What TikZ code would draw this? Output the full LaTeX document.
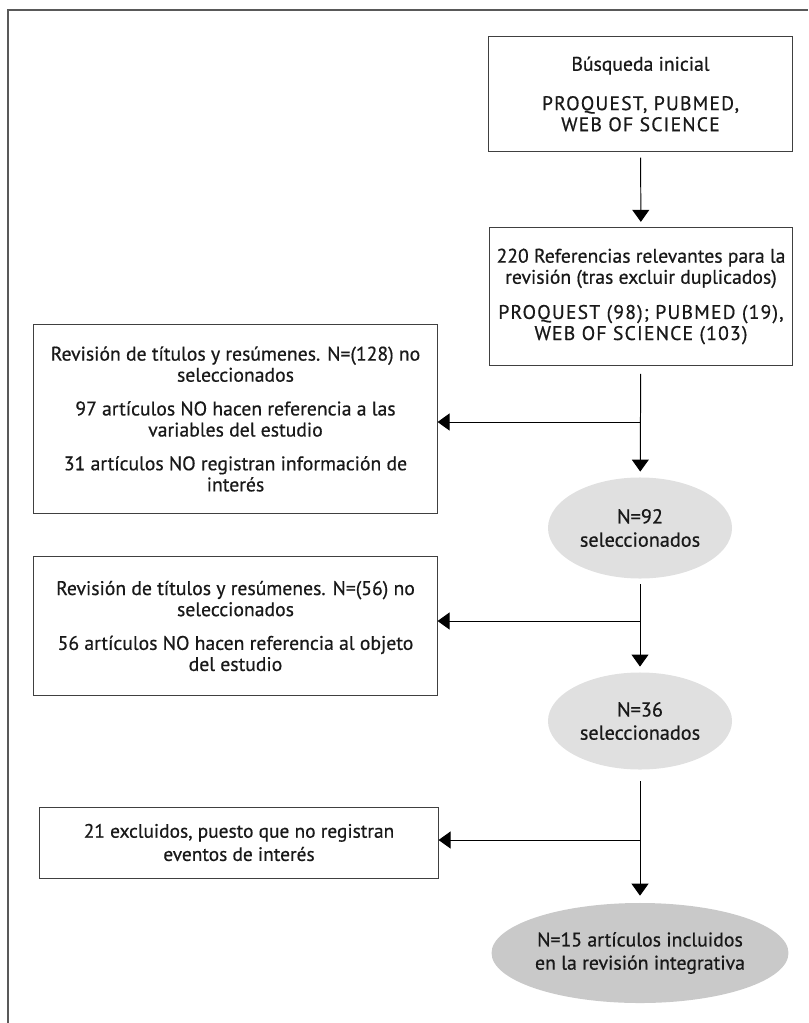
\documentclass[tikz,border=0pt]{standalone}
\usepackage{fontspec}
\setmainfont{PT Sans}[FakeBold=0.6]
\usetikzlibrary{shapes.geometric,arrows.meta}

\newcommand{\mayus}{\addfontfeature{LetterSpace=6}}

\tikzset{
  caja/.style={draw=black!75, line width=0.7pt, align=center, inner sep=0pt, text=black!90, font=\fontsize{14}{15}\selectfont},
  selec/.style={ellipse, fill=black!12, align=center, inner sep=0pt, text=black!90, font=\fontsize{14.4}{16.5}\selectfont},
  final/.style={ellipse, fill=black!21, align=center, inner sep=0pt, text=black!90, font=\fontsize{14.1}{16.5}\selectfont},
  flecha/.style={line width=0.7pt, -{Triangle[width=12pt,length=8.5pt]}}
}

\begin{document}
\begin{tikzpicture}[x=0.025cm,y=-0.025cm]
\useasboundingbox (0,0) rectangle (808,1023);
\draw [black!65, line width=1.2pt] (8,1023) -- (8,10) -- (808,10);
\node [caja, minimum width=7.575cm, minimum height=2.875cm] (busq) at (640.5,94) {B\'usqueda inicial\\[13pt] {\mayus PROQUEST, PUBMED,}\\ {\mayus WEB OF SCIENCE}};
\node [caja, minimum width=7.55cm, minimum height=3.425cm] (refs) at (641,296.5) {220 Referencias relevantes para la\\ revisi\'on (tras excluir duplicados)\\[10pt] {\mayus PROQUEST (98); PUBMED (19),}\\ {\mayus WEB OF SCIENCE (103)}};
\node [caja, minimum width=10.075cm, minimum height=4.7cm] (rev1) at (235.5,419) {Revisi\'on de t\'itulos y res\'umenes. N=(128) no\\ seleccionados\\[9pt] 97 art\'iculos NO hacen referencia a las\\ variables del estudio\\[9pt] 31 art\'iculos NO registran informaci\'on de\\ inter\'es};
\node [selec, minimum width=4.6cm, minimum height=2.525cm] (n92) at (640,528) {N=92\\ seleccionados};
\node [caja, minimum width=10.075cm, minimum height=3.45cm] (rev2) at (235.5,626) {Revisi\'on de t\'itulos y res\'umenes. N=(56) no\\ seleccionados\\[9pt] 56 art\'iculos NO hacen referencia al objeto\\ del estudio};
\node [selec, minimum width=4.6cm, minimum height=2.425cm] (n36) at (640,721) {N=36\\ seleccionados};
\node [caja, font=\fontsize{13.8}{16.5}\selectfont, minimum width=9.95cm, minimum height=1.775cm] (excl) at (239,842.5) {21 excluidos, puesto que no registran\\ eventos de inter\'es};
\node [final, minimum width=7.15cm, minimum height=2.5cm] (n15) at (640,953) {N=15 art\'iculos incluidos\\ en la revisi\'on integrativa};
% ramas
\coordinate (r1) at (640,422);
\coordinate (r2) at (640,621);
\coordinate (r3) at (640,840);
\draw [flecha, shorten <=4pt, shorten >=4pt] (busq) -- (refs);
\draw [flecha, shorten <=6pt, shorten >=4pt] (refs) -- (n92);
\draw [flecha] (r1) -- (r1 -| rev1.east);
\draw [flecha, shorten <=4pt, shorten >=4pt] (n92) -- (n36);
\draw [flecha] (r2) -- (r2 -| rev2.east);
\draw [flecha, shorten <=8pt, shorten >=5pt] (n36) -- (n15);
\draw [flecha] (r3) -- (r3 -| excl.east);
\end{tikzpicture}
\end{document}
